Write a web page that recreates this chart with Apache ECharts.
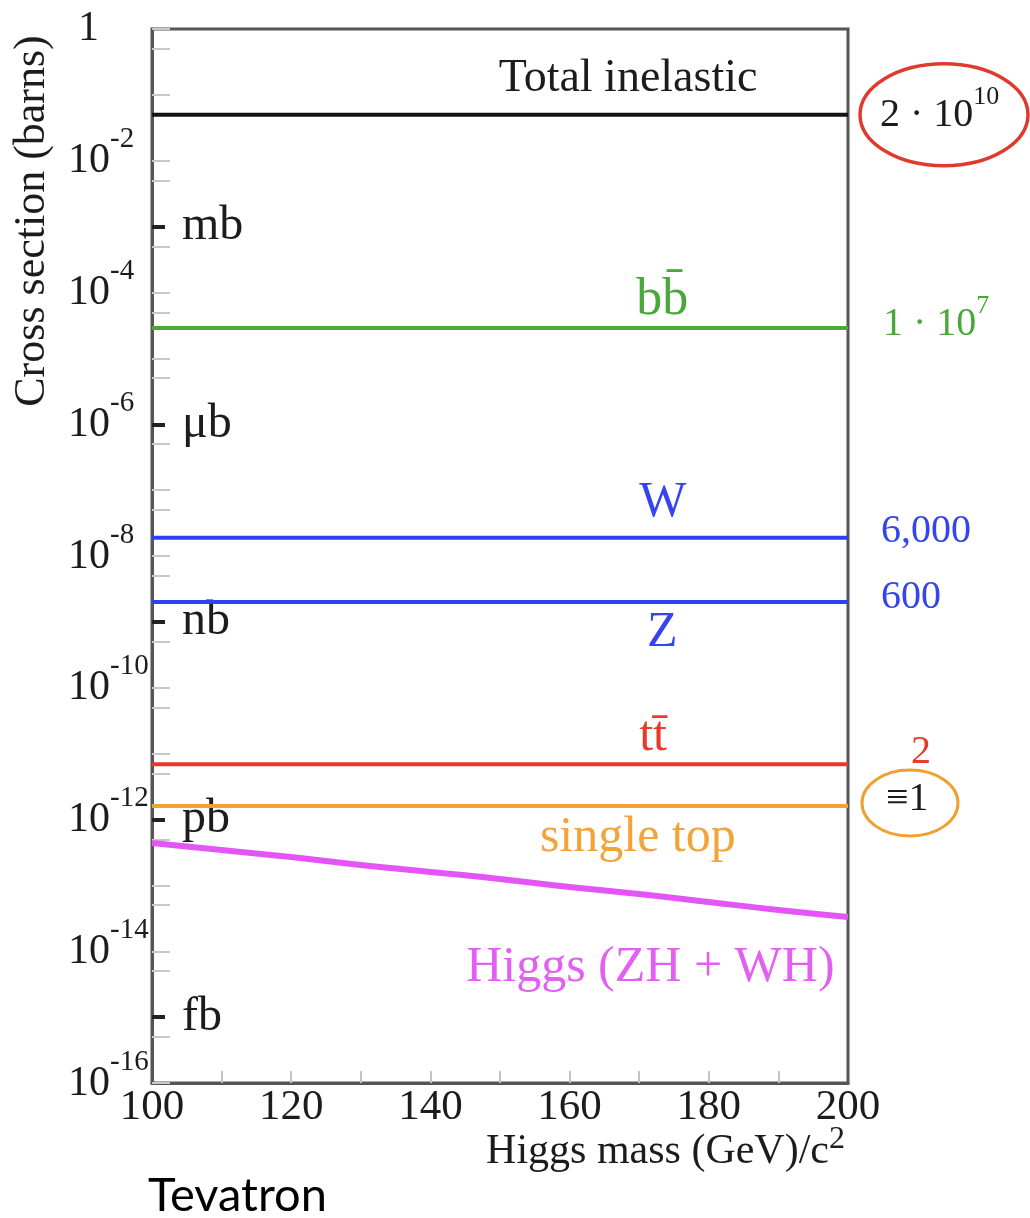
<!DOCTYPE html>
<html><head><meta charset="utf-8">
<script src="https://cdn.jsdelivr.net/npm/echarts@6/dist/echarts.min.js"></script>
<style>html,body{margin:0;padding:0;background:#fff}#chart{width:1030px;height:1218px}</style>
</head><body><div id="chart"></div>
<script>
// ---------- data ----------
const higgsMass = [100, 110, 120, 130, 140, 150, 160, 170, 180, 190, 200];            // GeV/c^2
const higgsXsec = [4.4e-13, 3.44e-13, 2.70e-13, 2.04e-13, 1.60e-13, 1.25e-13, 9.45e-14, 7.4e-14, 5.6e-14, 4.23e-14, 3.31e-14]; // barns
const higgsName = 'Higgs (ZH + WH)';
const processNames = ['Total inelastic', 'bb\u0304', 'W', 'Z', 'tt\u0304', 'single top'];
const processXsec = [5.0e-2, 2.9e-5, 1.9e-8, 2.0e-9, 6.9e-12, 1.6e-12];             // barns
const processRates = ['2 · 10^10', '1 · 10^7', '6,000', '600', '2', '≡1'];
const massRange = [100, 200];
const xTickLabels = [100, 120, 140, 160, 180, 200];
const yLabelExps = [0, -2, -4, -6, -8, -10, -12, -14, -16];
const unitExps = [-3, -6, -9, -12, -15];
const unitNames = ['mb', 'μb', 'nb', 'pb', 'fb'];

// ---------- styles ----------
const SERIF = '"Liberation Serif", "Times New Roman", serif';
const INK = '#1c1c1c';
const procStyle = [
  {color: '#141414', text: '#1c1c1c', rateColor: '#1c1c1c', labelMass: 168.4, dy: -36, fs: 46, endDist: 32, endDy: 1},
  {color: '#4ca733', text: '#4aa83a', rateColor: '#4aa83a', labelMass: 173.3, dy: -28, fs: 52, endDist: 35, endDy: -3},
  {color: '#2f3ff2', text: '#3444ee', rateColor: '#3444ee', labelMass: 173.4, dy: -35, fs: 50, endDist: 33, endDy: -6},
  {color: '#2f3ff2', text: '#3444ee', rateColor: '#3444ee', labelMass: 173.3, dy: 31, fs: 50, endDist: 33, endDy: -5},
  {color: '#e8392a', text: '#e8392a', rateColor: '#e8392a', labelMass: 172.0, dy: -27, fs: 50, endDist: 63, endDy: -12},
  {color: '#f1a232', text: '#f2a43a', rateColor: '#1c1c1c', labelMass: 169.8, dy: 32, fs: 50, endDist: 38, endDy: -7}
];
const higgsStyle = {color: '#e455f5', text: '#e35ef2', labelMass: 171.6, dy: 74, fs: 50};

const lg = v => Math.log10(v);

// ticks
const grayTicks = [];
for (let n = 0; n >= -16; n--) {
  if (unitExps.indexOf(n) < 0) grayTicks.push(n);
  const h = n - Math.log10(2);
  if (h > -16) grayTicks.push(h);
}
const xMinorTicks = [];
for (let m = massRange[0] + 10; m < massRange[1]; m += 10) xMinorTicks.push(m);

function rateRich(color) {
  return {
    n: {fontSize: 40, fontFamily: SERIF, color: color, padding: [0, 0, 12, 0], verticalAlign: 'bottom'},
    s: {fontSize: 26, fontFamily: SERIF, color: color, padding: [0, 0, 38, 0], verticalAlign: 'top'},
    p: {fontSize: 40, fontFamily: SERIF, color: color}
  };
}
function rateText(r) {
  if (r.indexOf('^') >= 0) { const a = r.split('^'); return '{n|' + a[0] + '}{s|' + a[1] + '}'; }
  return '{p|' + r + '}';
}

const series = processNames.map((name, i) => {
  const st = procStyle[i];
  return {
    type: 'line', name: name,
    data: massRange.map(m => [m, lg(processXsec[i])]),
    symbol: 'none', showSymbol: false, silent: true,
    lineStyle: {color: st.color, width: 4},
    endLabel: {
      show: true, distance: st.endDist, offset: [0, st.endDy],
      formatter: () => rateText(processRates[i]),
      rich: rateRich(st.rateColor)
    },
    markPoint: {
      symbol: 'circle', symbolSize: 0, silent: true,
      itemStyle: {color: 'rgba(0,0,0,0)'},
      data: [{coord: [st.labelMass, lg(processXsec[i])],
        label: {show: true, position: 'inside', offset: [0, st.dy], formatter: name,
          fontFamily: SERIF, fontSize: st.fs, color: st.text}}]
    }
  };
});
series.push({
  type: 'line', name: higgsName,
  data: higgsMass.map((m, i) => [m, lg(higgsXsec[i])]),
  smooth: true, symbol: 'none', showSymbol: false, silent: true,
  lineStyle: {color: higgsStyle.color, width: 6},
  markPoint: {
    symbol: 'circle', symbolSize: 0, silent: true, itemStyle: {color: 'rgba(0,0,0,0)'},
    data: [{coord: [higgsStyle.labelMass, lg(higgsXsec[7])],
      label: {show: true, position: 'inside', offset: [0, higgsStyle.dy], formatter: higgsName,
        fontFamily: SERIF, fontSize: higgsStyle.fs, color: higgsStyle.text}}]
  }
});

const chart = echarts.init(document.getElementById('chart'), null, {renderer: 'canvas'});
chart.setOption({
  animation: false,
  backgroundColor: '#ffffff',
  grid: {left: 152, right: 182, top: 29, bottom: 135, show: true, borderColor: '#555', borderWidth: 3, backgroundColor: 'rgba(0,0,0,0)'},
  xAxis: {
    type: 'value', min: massRange[0], max: massRange[1], interval: 20,
    axisLine: {show: true, onZero: false, lineStyle: {color: '#555', width: 3}},
    axisTick: {show: true, inside: true, length: 12, customValues: xMinorTicks, lineStyle: {color: '#c4c4c4', width: 2}},
    axisLabel: {customValues: xTickLabels, margin: 3, fontSize: 43, fontFamily: SERIF, color: INK},
    splitLine: {show: false}
  },
  yAxis: [{
    type: 'value', min: -16, max: 0, position: 'left',
    axisLine: {show: true, onZero: false, lineStyle: {color: '#555', width: 3}},
    axisTick: {show: true, inside: true, length: 18, customValues: grayTicks, lineStyle: {color: '#c8c8c8', width: 2}},
    axisLabel: {
      customValues: yLabelExps, margin: 84, align: 'left', verticalAlign: 'middle',
      showMinLabel: true, showMaxLabel: true,
      formatter: v => (v === 0 ? '{one|1}' : '{b|10}{s|' + v + '}'),
      rich: {
        one: {fontSize: 42, fontFamily: SERIF, color: INK, padding: [0, 0, 0, 10]},
        b: {fontSize: 42, fontFamily: SERIF, color: INK, padding: [0, 0, 14, 0], verticalAlign: 'bottom'},
        s: {fontSize: 29, fontFamily: SERIF, color: INK, padding: [0, 0, 42, 0], verticalAlign: 'top'}
      }
    },
    splitLine: {show: false}
  }, {
    type: 'value', min: -16, max: 0, position: 'left',
    axisLine: {show: false, onZero: false},
    axisTick: {show: true, inside: true, length: 13, customValues: unitExps, lineStyle: {color: '#222', width: 4}},
    axisLabel: {
      customValues: unitExps, inside: true, margin: 30, align: 'left', verticalAlign: 'middle',
      formatter: v => unitNames[unitExps.indexOf(v)],
      fontSize: 48, fontFamily: SERIF, color: INK
    },
    splitLine: {show: false}
  }],
  series: series
});

// decorations placed from the chart's own scale
const pTot = chart.convertToPixel({xAxisIndex: 0, yAxisIndex: 0}, [massRange[1], lg(processXsec[0])]);
const pTop = chart.convertToPixel({xAxisIndex: 0, yAxisIndex: 0}, [massRange[1], lg(processXsec[5])]);
const gl = chart.convertToPixel({xAxisIndex: 0, yAxisIndex: 0}, [massRange[0], 0]);
const gr = chart.convertToPixel({xAxisIndex: 0, yAxisIndex: 0}, [massRange[1], -16]);
chart.setOption({
  graphic: [
    {type: 'ellipse', shape: {cx: pTot[0] + 96, cy: pTot[1], rx: 84, ry: 51},
     style: {fill: 'none', stroke: '#e03a2e', lineWidth: 3.5}, silent: true},
    {type: 'ellipse', shape: {cx: pTop[0] + 62, cy: pTop[1] - 3, rx: 48, ry: 33},
     style: {fill: 'none', stroke: '#f0a030', lineWidth: 3}, silent: true},
    {type: 'text', x: 32, y: (gl[1] + 413) / 2, rotation: Math.PI / 2, silent: true,
     style: {text: 'Cross section (barns)', font: '44px ' + SERIF, fill: INK, align: 'center', verticalAlign: 'middle'}},
    {type: 'text', x: gr[0] - 3, y: gr[1] + 68, silent: true,
     style: {text: '{b|Higgs mass (GeV)/c}{s|2}', align: 'right', verticalAlign: 'middle',
       rich: {
         b: {fontSize: 42, fontFamily: SERIF, fill: INK, padding: [0, 0, 5, 0], verticalAlign: 'bottom'},
         s: {fontSize: 32, fontFamily: SERIF, fill: INK, padding: [0, 0, 22, 0], verticalAlign: 'top'}
       }}},
    {type: 'text', x: 148, y: 1196, silent: true,
     style: {text: 'Tevatron', font: '47px Lato, "Noto Sans", sans-serif', fill: '#000', align: 'left', verticalAlign: 'middle'}}
  ]
});
</script></body></html>
